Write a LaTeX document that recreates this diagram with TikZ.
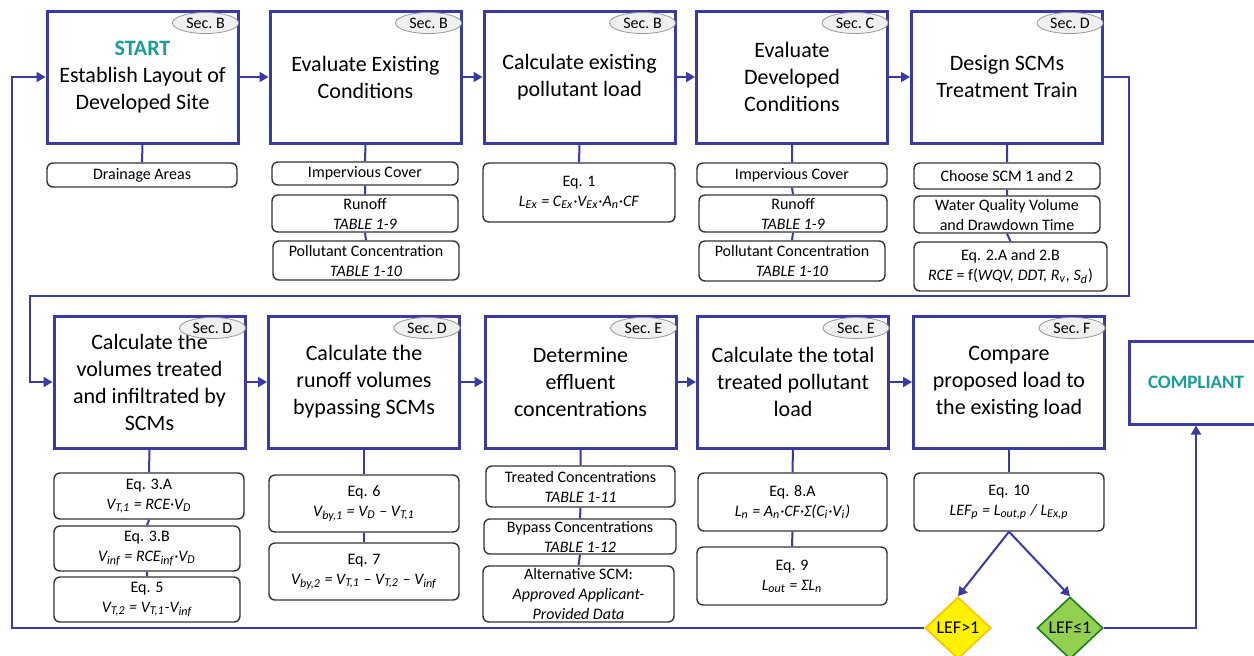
\documentclass[tikz,border=0pt]{standalone}
\usepackage{fontspec}
\setmainfont{Carlito}
\usepackage{xcolor}
\usepackage{tikz}
\usetikzlibrary{positioning, shapes.geometric, arrows.meta}

\definecolor{mblue}{RGB}{58,58,165}
\definecolor{mteal}{RGB}{24,158,152}
\definecolor{dgreen}{RGB}{30,125,30}
\definecolor{lgreen}{RGB}{146,208,80}
\definecolor{dyellow}{RGB}{255,192,0}

\tikzset{
  mainbox/.style={draw=mblue, line width=1.5pt, rectangle, minimum width=95.5pt, minimum height=66pt,
    inner sep=1pt, align=center, font=\fontsize{11}{13.5}\selectfont},
  subbox/.style={draw=black!80, line width=0.7pt, rectangle, rounded corners=3pt, minimum width=94pt,
    inner sep=1pt, align=center, font=\fontsize{8}{10}\selectfont},
  secnode/.style={draw=gray!80, fill=gray!12, ellipse, minimum width=33pt, minimum height=10.5pt,
    inner sep=0pt, font=\fontsize{8}{9}\selectfont},
  decision/.style={diamond, line width=0.8pt, minimum width=33pt, minimum height=31pt, inner sep=0pt,
    font=\fontsize{9}{10}\selectfont},
  link/.style={draw=mblue, line width=1pt},
  flow/.style={link, -{Triangle[width=5pt, length=4.5pt]}}
}

\begin{document}
\begin{tikzpicture}[x=0.5pt, y=-0.5pt]
    \useasboundingbox (0,0) rectangle (1254,655);
    % Top row: main steps
    \node[mainbox] (layout) at (142.5,77) {\textcolor{mteal}{\textbf{START}}\\Establish Layout of\\Developed Site};
    \node[mainbox] (existing) at (365.5,77) {Evaluate Existing\\Conditions};
    \node[mainbox] (exload) at (579.5,77) {Calculate existing\\pollutant load};
    \node[mainbox] (developed) at (792,77) {Evaluate\\Developed\\Conditions};
    \node[mainbox] (design) at (1007,77) {Design SCMs\\Treatment Train};
    % Bottom row: main steps
    \node[mainbox] (volumes) at (149.5,382) {Calculate the\\volumes treated\\and infiltrated by\\SCMs};
    \node[mainbox] (bypass) at (364,382) {Calculate the\\runoff volumes\\bypassing SCMs};
    \node[mainbox] (effluent) at (580.5,382) {Determine\\effluent\\concentrations};
    \node[mainbox] (treated) at (793,382) {Calculate the total\\treated pollutant\\load};
    \node[mainbox] (compare) at (1009,382) {Compare\\proposed load to\\the existing load};
    \node[mainbox, minimum width=67pt, minimum height=41.5pt, font=\fontsize{9.5}{11}\selectfont\bfseries,
      text=mteal] (compliant) at (1196,382.5) {COMPLIANT};
    % Section tags
    \foreach \b/\s in {layout/B, existing/B, exload/B, developed/C, design/D,
                       volumes/D, bypass/D, effluent/E, treated/E, compare/F}
      \node[secnode] at ([xshift=-17pt, yshift=-6.75pt]\b.north east) {Sec.~\s};
    % Top row: inputs
    \node[subbox, minimum width=95pt, minimum height=12pt] (drain) at (142,175) {Drainage Areas};
    \node[subbox, minimum width=93pt, minimum height=11.5pt] (impex) at (365,173.5) {Impervious Cover};
    \node[subbox, minimum width=93pt, minimum height=18.5pt] (runex) at (365,213.5) {Runoff\\\textit{TABLE 1-9}};
    \node[subbox, minimum width=93pt, minimum height=19.5pt] (concex) at (366,260.5) {Pollutant Concentration\\\textit{TABLE 1-10}};
    \node[subbox, minimum width=96pt, minimum height=29.5pt] (eq1) at (579,192.5)
      {Eq. 1\\\textit{L\textsubscript{Ex} = C\textsubscript{Ex}·V\textsubscript{Ex}·A\textsubscript{n}·CF}};
    \node[subbox, minimum width=95pt, minimum height=12pt] (impdev) at (792,175) {Impervious Cover};
    \node[subbox, minimum width=94pt, minimum height=18.5pt] (rundev) at (793,213.5) {Runoff\\\textit{TABLE 1-9}};
    \node[subbox, minimum width=93pt, minimum height=20pt] (concdev) at (792,261) {Pollutant Concentration\\\textit{TABLE 1-10}};
    \node[subbox, minimum width=93pt, minimum height=13pt] (choose) at (1007,176) {Choose SCM 1 and 2};
    \node[subbox, minimum width=93pt, minimum height=18.5pt] (wqv) at (1007,214.5) {Water Quality Volume\\and Drawdown Time};
    \node[subbox, minimum width=96.5pt, minimum height=24.5pt] (eq2) at (1010.5,266.5)
      {Eq. 2.A and 2.B\\\textit{RCE} = f(\textit{WQV, DDT, R\textsubscript{v}, S\textsubscript{d}})};
    % Bottom row: equations and tables
    \node[subbox, minimum width=95pt, minimum height=23pt] (eq3a) at (149,496)
      {Eq. 3.A\\\textit{V\textsubscript{T,1} = RCE·V\textsubscript{D}}};
    \node[subbox, minimum width=93pt, minimum height=22.5pt] (eq3b) at (147,548.5)
      {Eq. 3.B\\\textit{V\textsubscript{inf} = RCE\textsubscript{inf}·V\textsubscript{D}}};
    \node[subbox, minimum width=93pt, minimum height=22.5pt] (eq5) at (147,599.5)
      {Eq. 5\\\textit{V\textsubscript{T,2} = V\textsubscript{T,1}-V\textsubscript{inf}}};
    \node[subbox, minimum width=95pt, minimum height=28.5pt] (eq6) at (364,503.5)
      {Eq. 6\\\textit{V\textsubscript{by,1} = V\textsubscript{D} – V\textsubscript{T,1}}};
    \node[subbox, minimum width=95pt, minimum height=28.5pt] (eq7) at (364,571.5)
      {Eq. 7\\\textit{V\textsubscript{by,2} = V\textsubscript{T,1} – V\textsubscript{T,2} – V\textsubscript{inf}}};
    \node[subbox, minimum width=94.5pt, minimum height=20.5pt] (trconc) at (580.5,486.5) {Treated Concentrations\\\textit{TABLE 1-11}};
    \node[subbox, minimum width=96pt, minimum height=17.5pt] (byconc) at (580,536.5) {Bypass Concentrations\\\textit{TABLE 1-12}};
    \node[subbox, minimum width=95.5pt, minimum height=28pt] (altscm) at (578.5,594)
      {Alternative SCM:\\\textit{Approved Applicant-}\\\textit{Provided Data}};
    \node[subbox, minimum width=94.5pt, minimum height=29pt] (eq8a) at (792.5,502)
      {Eq. 8.A\\\textit{L\textsubscript{n} = A\textsubscript{n}·CF·Σ(C\textsubscript{i}·V\textsubscript{i})}};
    \node[subbox, minimum width=95pt, minimum height=29pt] (eq9) at (792,576)
      {Eq. 9\\\textit{L\textsubscript{out} = ΣL\textsubscript{n}}};
    \node[subbox, minimum width=95pt, minimum height=29pt] (eq10) at (1009,502)
      {Eq. 10\\\textit{LEF\textsubscript{p} = L\textsubscript{out,p} / L\textsubscript{Ex,p}}};
    % Decisions
    \node[decision, draw=dyellow, fill=yellow] (lefhi) at (958,628) {LEF>1};
    \node[decision, draw=dgreen, fill=lgreen] (leflo) at (1070,628) {LEF≤1};
    % Loop corners
    \coordinate (ret) at (30,296);
    \coordinate (back) at (12,628);
    % Connections: steps to inputs
    \draw[link] (layout.south) -- (drain.north);
    \draw[link] (existing.south) -- (impex.north) (impex.south) -- (runex.north) (runex.south) -- (concex.north);
    \draw[link] (exload.south) -- (eq1.north);
    \draw[link] (developed.south) -- (impdev.north) (impdev.south) -- (rundev.north) (rundev.south) -- (concdev.north);
    \draw[link] (design.south) -- (choose.north) (choose.south) -- (wqv.north) (wqv.south) -- (eq2.north);
    \draw[link] (volumes.south) -- (eq3a.north) (eq3a.south) -- (eq3b.north) (eq3b.south) -- (eq5.north);
    \draw[link] (bypass.south) -- (eq6.north) (eq6.south) -- (eq7.north);
    \draw[link] (effluent.south) -- (trconc.north) (trconc.south) -- (byconc.north) (byconc.south) -- (altscm.north);
    \draw[link] (treated.south) -- (eq8a.north) (eq8a.south) -- (eq9.north);
    \draw[link] (compare.south) -- (eq10.north);
    % Connections: step to step
    \draw[flow] (layout) -- (existing);
    \draw[flow] (existing) -- (exload);
    \draw[flow] (exload) -- (developed);
    \draw[flow] (developed) -- (design);
    \draw[flow] (design.east) -- ++(25,0) |- (ret) |- (volumes.west);
    \draw[flow] (volumes) -- (bypass);
    \draw[flow] (bypass) -- (effluent);
    \draw[flow] (effluent) -- (treated);
    \draw[flow] (treated) -- (compare);
    % Connections: decision
    \draw[flow] (eq10.south) -- (lefhi.north);
    \draw[flow] (eq10.south) -- (leflo.north);
    \draw[flow] (leflo.east) -| (compliant.south);
    \draw[flow] (lefhi.west) -- (back) |- (layout.west);
\end{tikzpicture}
\end{document}
